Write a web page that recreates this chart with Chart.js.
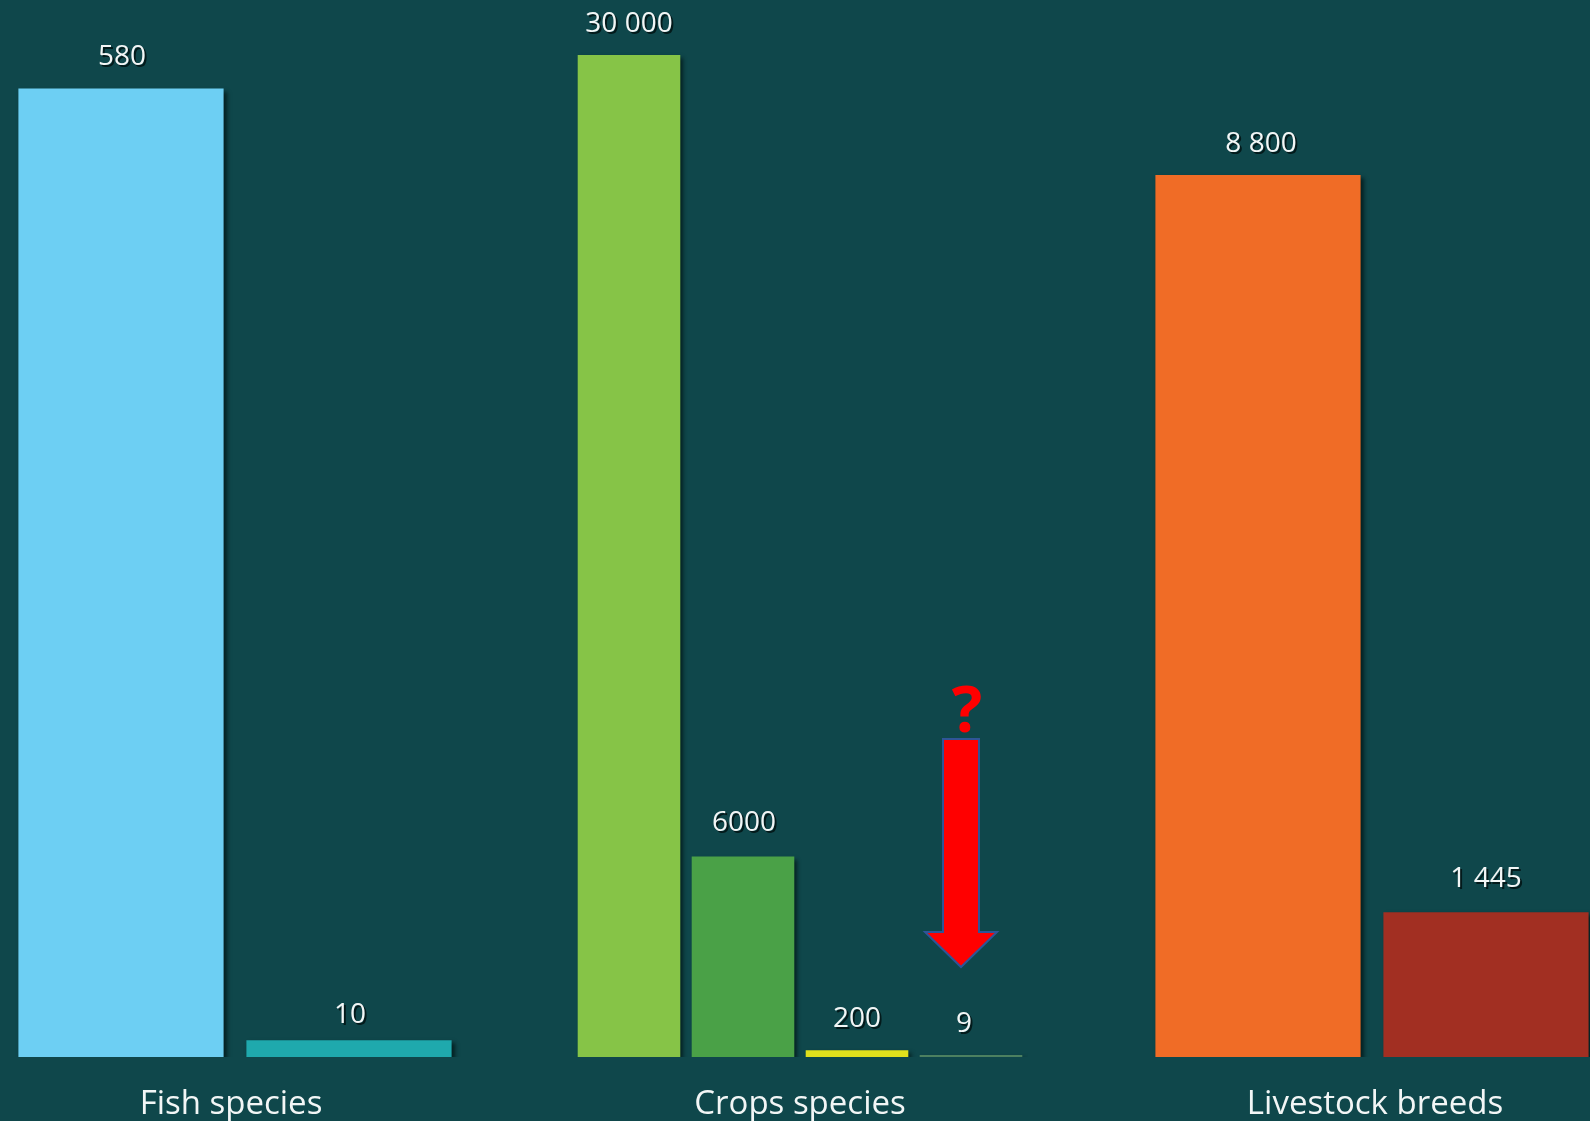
<!DOCTYPE html>
<html>
<head>
<meta charset="utf-8">
<script src="https://cdn.jsdelivr.net/npm/chart.js@4.4.1/dist/chart.umd.min.js"></script>
<style>
  html, body { margin:0; padding:0; background:#0f474b; width:1590px; height:1121px; overflow:hidden; }
  .box { position:absolute; top:0; width:456px; height:1121px; }
</style>
</head>
<body>
<div class="box" style="left:7px"><canvas id="fish"></canvas></div>
<div class="box" style="left:572px"><canvas id="crops"></canvas></div>
<div class="box" style="left:1144px"><canvas id="live"></canvas></div>
<script>
// ---- data ----
const groupTitles = ["Fish species", "Crops species", "Livestock breeds"];

const fishLabels = ["Fish A", "Fish B"];
const fishValues = [580, 10];
const fishText   = ["580", "10"];

const cropLabels = ["Crop A", "Crop B", "Crop C", "Crop D"];
const cropValues = [30000, 6000, 200, 9];
const cropText   = ["30 000", "6000", "200", "9"];

const liveLabels = ["Livestock A", "Livestock B"];
const liveValues = [8800, 1445];
const liveText   = ["8 800", "1 445"];

// axis maxima per group (each group has its own scale)
const fishMax = 633;
const cropMax = 31650;
const liveMax = 10546;

// ---- styles ----
const fishColors = ["#6dcff3", "#1fa9ad"];
const cropColors = ["#86c447", "#4aa147", "#e0e01c", "#4c8060"];
const liveColors = ["#f06c26", "#a22f22"];
const FONT = "'Open Sans', 'Noto Sans', sans-serif";

const shadowPlugin = {
  id: 'barShadow',
  beforeDatasetsDraw(chart) {
    const c = chart.ctx;
    c.save();
    c.shadowColor = 'rgba(0,20,20,0.75)';
    c.shadowOffsetX = 3;
    c.shadowOffsetY = 3;
    c.shadowBlur = 4;
  },
  afterDatasetsDraw(chart) { chart.ctx.restore(); }
};

const labelPlugin = {
  id: 'valueLabels',
  afterDatasetsDraw(chart, args, opts) {
    const c = chart.ctx;
    const meta = chart.getDatasetMeta(0);
    c.save();
    c.font = "28px " + FONT;
    c.textAlign = 'center';
    c.textBaseline = 'alphabetic';
    meta.data.forEach((bar, i) => {
      const txt = opts.texts[i];
      const sh = (opts.shift && opts.shift[i]) || [0, 0];
      const x = bar.x + sh[0], y = bar.y - 23 + sh[1];
      c.fillStyle = 'rgba(0,15,15,0.8)';
      c.fillText(txt, x + 2, y + 2);
      c.fillStyle = '#f2f6f6';
      c.fillText(txt, x, y);
    });
    // group title
    const ca = chart.chartArea;
    c.font = "33px " + FONT;
    c.fillStyle = '#f2f6f6';
    c.fillText(opts.title, (ca.left + ca.right) / 2 + (opts.titleShift || 0), ca.bottom + 57);
    c.restore();
  }
};

const arrowPlugin = {
  id: 'arrowMark',
  afterDatasetsDraw(chart, args, opts) {
    if (!opts.show) return;
    const c = chart.ctx;
    const bar = chart.getDatasetMeta(0).data[opts.index];
    const cx = bar.x - 10;
    const base = chart.chartArea.bottom;
    const top = base - 318, headY = base - 125, tip = base - 90;
    c.save();
    c.beginPath();
    c.moveTo(cx - 18, top);
    c.lineTo(cx + 18, top);
    c.lineTo(cx + 18, headY);
    c.lineTo(cx + 36, headY);
    c.lineTo(cx, tip);
    c.lineTo(cx - 36, headY);
    c.lineTo(cx - 18, headY);
    c.closePath();
    c.fillStyle = '#ff0000';
    c.fill();
    c.lineWidth = 2;
    c.strokeStyle = '#2f5597';
    c.stroke();
    c.font = "bold 64px " + FONT;
    c.textAlign = 'center';
    c.textBaseline = 'alphabetic';
    c.fillStyle = '#ff0000';
    c.fillText('?', cx + 6, top - 7);
    c.restore();
  }
};

function makeChart(id, labels, values, colors, yMax, texts, title, extra) {
  extra = extra || {};
  return new Chart(document.getElementById(id), {
    type: 'bar',
    data: {
      labels: labels,
      datasets: [{
        data: values,
        backgroundColor: colors,
        borderWidth: 0,
        barPercentage: 0.9,
        categoryPercentage: 1.0,
        minBarLength: extra.minBar || 0
      }]
    },
    options: {
      responsive: true,
      maintainAspectRatio: false,
      animation: false,
      layout: { padding: { top: 0, bottom: 64, left: 0, right: 0 } },
      scales: {
        x: { display: false },
        y: { display: false, min: 0, max: yMax }
      },
      plugins: {
        legend: { display: false },
        tooltip: { enabled: false },
        valueLabels: { texts: texts, title: title, titleShift: extra.titleShift || 0, shift: extra.shift || [] },
        arrowMark: { show: !!extra.arrow, index: extra.arrowIndex || 0 }
      }
    },
    plugins: [shadowPlugin, labelPlugin, arrowPlugin]
  });
}

makeChart('fish', fishLabels, fishValues, fishColors, fishMax, fishText, groupTitles[0],
  { titleShift: -4, shift: [[1, -1], [1, 6]] });
makeChart('crops', cropLabels, cropValues, cropColors, cropMax, cropText, groupTitles[1],
  { arrow: true, arrowIndex: 3, minBar: 2, shift: [[0, 0], [1, -3], [0, 0], [-7, 0]] });
makeChart('live', liveLabels, liveValues, liveColors, liveMax, liveText, groupTitles[2],
  { titleShift: 3, shift: [[3, 0], [0, -2]] });
</script>
</body>
</html>
